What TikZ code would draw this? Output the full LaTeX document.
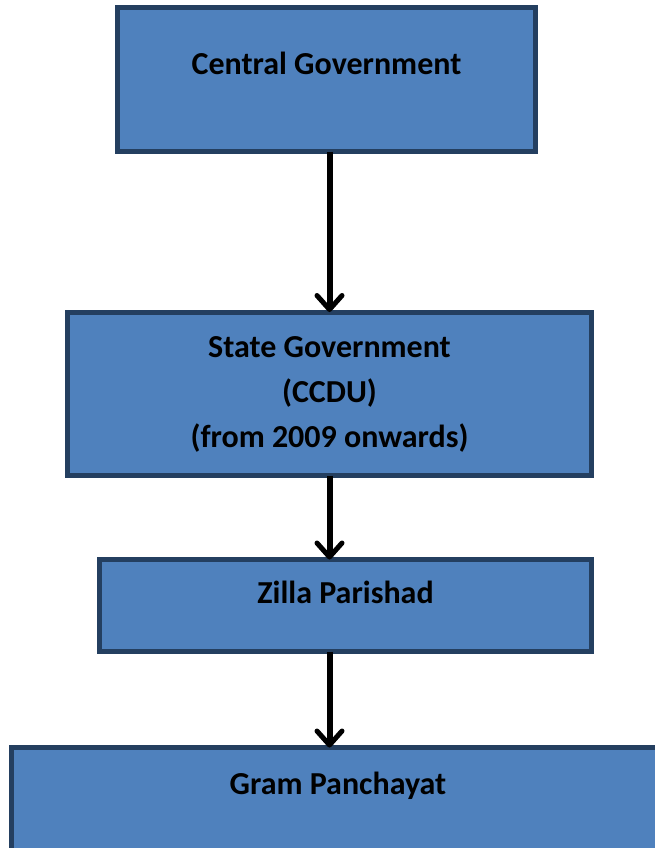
\documentclass[tikz,border=0pt]{standalone}
\usepackage{fontspec}
\setmainfont{Carlito}
\usetikzlibrary{arrows.meta,positioning}
\definecolor{boxfill}{HTML}{4F81BD}
\definecolor{boxline}{HTML}{243F60}
\begin{document}
\begin{tikzpicture}[x=1pt,y=-1pt,
   box/.style={rectangle,draw=boxline,fill=boxfill,line width=5pt,inner sep=0pt,outer sep=0pt,
     font=\fontsize{32}{45}\selectfont\bfseries,align=center,text height=22pt},
   >={Straight Barb[length=14pt,width=25pt,line width=5pt,round]}]
   \clip (0,0) rectangle (655,848);
   \node[box,minimum width=418pt,minimum height=144pt,text depth=31pt] (cg) at (326.5,79.5) {Central Government};
   \node[box,minimum width=524pt,minimum height=163.5pt,text height=112pt,text depth=5.5pt] (sg) at (329.5,393.75) {State Government\\(CCDU)\\(from 2009 onwards)};
   \node[box,minimum width=492pt,minimum height=92pt,text depth=27pt] (zp) at (345.5,605.5) {Zilla Parishad};
   \node[box,minimum width=653pt,minimum height=110pt,text depth=39pt] (gp) at (338,802.5) {Gram Panchayat};
   \coordinate (ax) at (329.5,0);
   \path[->,line width=6pt]
    (cg.south -| ax) edge (sg.north -| ax)
    (sg.south -| ax) edge (zp.north -| ax)
    (zp.south -| ax) edge (gp.north -| ax);
\end{tikzpicture}
\end{document}
